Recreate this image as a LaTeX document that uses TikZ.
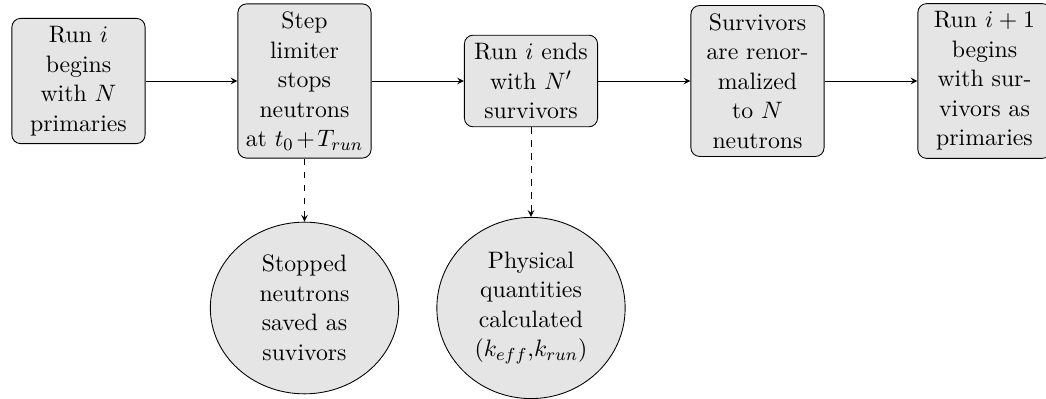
\documentclass[tikz,border=0pt]{standalone}
\usetikzlibrary{shapes.geometric,arrows}
\begin{document}
\begin{tikzpicture}[x=0.4608pt,y=-0.4608pt,
  >=stealth,
  every node/.style={font=\fontsize{10.95}{13.6}\selectfont},
  procbox/.style={draw,fill=gray!20,rounded corners=4pt,inner sep=3.65pt,
    text width=1.9cm,align=center},
  resultell/.style={draw,fill=gray!20,ellipse,inner sep=3.65pt,
    text width=1.9cm,align=center},
  flow/.style={->},
  feed/.style={->,dashed}]
  \useasboundingbox (0,0) rectangle (1046,399);

  % main chain of a run
  \node[procbox] (start) at (78.5,81) {Run $i$\\begins\\with $N$\\primaries};
  \node[procbox] (limit) at (304.5,81) {Step\\limiter\\stops\\neutrons\\at $t_0+T_{run}$};
  \node[procbox] (ends)  at (531,81) {Run $i$ ends\\with $N'$\\survivors};
  \node[procbox] (renorm) at (757.5,81) {Survivors\\are renor-\\malized\\to $N$\\neutrons};
  \node[procbox] (next)  at (984.5,81) {Run $i+1$\\begins\\with sur-\\vivors as\\primaries};

  % outputs of the run
  \node[resultell] (saved) at (304.5,308) {Stopped\\neutrons\\saved as\\suvivors};
  \node[resultell] (phys)  at (531,308) {Physical\\quantities\\calculated\\$(k_{eff}$,$k_{run})$};

  \draw[flow] (start) -- (limit);
  \draw[flow] (limit) -- (ends);
  \draw[flow] (ends) -- (renorm);
  \draw[flow] (renorm) -- (next);

  \draw[feed] (limit) -- (saved);
  \draw[feed] (ends) -- (phys);
\end{tikzpicture}
\end{document}
